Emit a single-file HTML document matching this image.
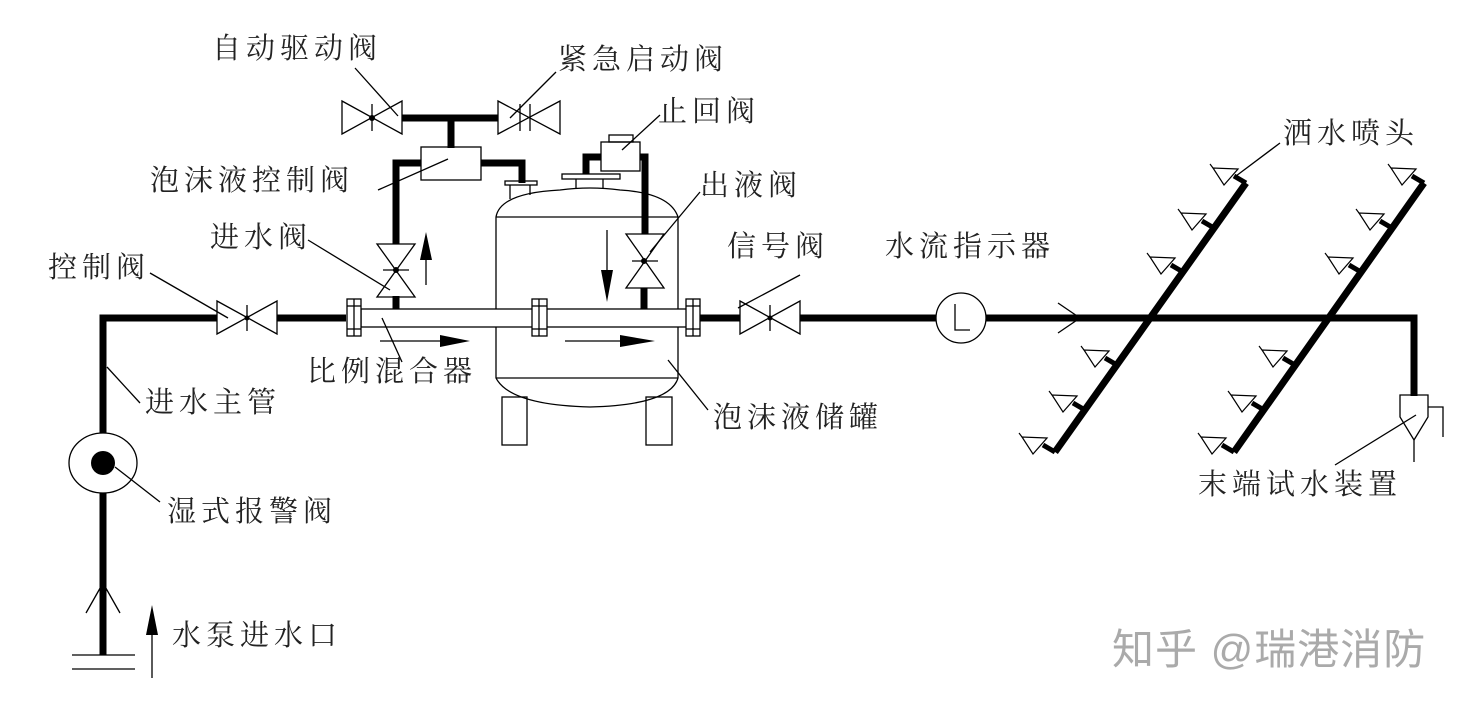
<!DOCTYPE html>
<html><head><meta charset="utf-8"><style>
body{margin:0;background:#fff}
svg{display:block}
text{font-family:"Liberation Serif","Noto Serif CJK SC",serif;font-size:29px;fill:#222;letter-spacing:5px}
</style></head><body>
<svg width="1472" height="707" viewBox="0 0 1472 707" xmlns="http://www.w3.org/2000/svg">
<g stroke="#000" fill="none">
<g stroke-width="7" stroke-linejoin="miter">
<polyline points="103,655 103,318 217,318"/>
<line x1="277" y1="318" x2="346" y2="318"/>
<line x1="700" y1="318" x2="740" y2="318"/>
<line x1="800" y1="318" x2="936" y2="318"/>
<polyline points="986,318 1414,318 1414,396"/>
<polyline points="402,118 498,118"/>
<line x1="451" y1="118" x2="451" y2="148"/>
<polyline points="421,163 396,163 396,244"/>
<line x1="396" y1="296" x2="396" y2="309"/>
<polyline points="481,163 522,163 522,183"/>
<polyline points="601,157 586,157 586,174"/>
<polyline points="640,157 645,157 645,234"/>
<line x1="644" y1="288" x2="644" y2="309"/>
<line x1="1246" y1="183" x2="1055" y2="452"/>
<line x1="1424" y1="183" x2="1234" y2="452"/>
</g>
<g stroke-width="1.3">
<polygon points="217,301 277,334 277,301 217,334"/>
<line x1="247" y1="305" x2="247" y2="331"/>
<polygon points="740,301 800,334 800,301 740,334"/>
<line x1="770" y1="305" x2="770" y2="331"/>
<polygon points="342,101 402,134 402,101 342,134"/>
<line x1="372" y1="104" x2="372" y2="131"/>
<polygon points="498,101 560,134 560,101 498,134"/>
<line x1="520" y1="104" x2="520" y2="131"/><line x1="530" y1="104" x2="530" y2="131"/>
<polygon points="377,244 415,244 377,297 415,297"/>
<line x1="383" y1="270" x2="409" y2="270"/>
<polygon points="626,234 664,234 626,288 664,288"/>
<line x1="632" y1="261" x2="658" y2="261"/>
<rect x="421" y="147" width="60" height="33"/>
<rect x="601" y="142" width="39" height="29"/>
<rect x="609" y="135" width="24" height="7"/>
<rect x="562" y="174" width="58" height="5"/>
<line x1="576" y1="179" x2="576" y2="189"/><line x1="603" y1="179" x2="603" y2="189"/>
<rect x="505" y="181" width="32" height="4"/>
<line x1="510" y1="185" x2="510" y2="199"/><line x1="530" y1="185" x2="530" y2="195"/>
<path d="M496,217 Q500,193 560,190 Q590,186 620,190 Q670,193 678,217 L678,378 Q670,405 590,407 Q510,405 496,378 Z"/>
<line x1="496" y1="217" x2="678" y2="217"/>
<line x1="496" y1="378" x2="678" y2="378"/>
<rect x="502" y="397" width="25" height="48"/>
<rect x="646" y="397" width="26" height="48"/>
<rect x="361" y="309" width="326" height="18" fill="#fff"/>
<rect x="347" y="299" width="14" height="37" fill="#fff"/>
<line x1="347" y1="306" x2="361" y2="306"/><line x1="347" y1="329" x2="361" y2="329"/><line x1="354" y1="299" x2="354" y2="336"/>
<rect x="532" y="299" width="15" height="37" fill="#fff"/>
<line x1="532" y1="306" x2="547" y2="306"/><line x1="532" y1="329" x2="547" y2="329"/><line x1="539" y1="299" x2="539" y2="336"/>
<rect x="686" y="299" width="14" height="37" fill="#fff"/>
<line x1="686" y1="306" x2="700" y2="306"/><line x1="686" y1="329" x2="700" y2="329"/><line x1="693" y1="299" x2="693" y2="336"/>
<line x1="380" y1="341" x2="440" y2="341"/>
<line x1="565" y1="341" x2="620" y2="341"/>
<line x1="426" y1="285" x2="426" y2="260"/>
<line x1="607" y1="230" x2="607" y2="270"/>
<line x1="152" y1="678" x2="152" y2="635"/>
<ellipse cx="103" cy="463" rx="34" ry="30" fill="#fff"/>
<circle cx="961" cy="318" r="25" fill="#fff"/>
<polyline points="955,304 955,330 970,330"/>
<polyline points="1058,303 1080,318 1058,333"/>
<polyline points="86,613 103,583 120,613"/>
<line x1="72" y1="655" x2="135" y2="655"/><line x1="72" y1="669" x2="135" y2="669"/>
<polygon points="1400,395 1428,395 1428,417 1414,440 1400,417"/>
<polyline points="1428,407 1443,407 1443,437"/>
<line x1="1414" y1="440" x2="1414" y2="462"/>
<line x1="150" y1="273" x2="228" y2="318"/>
<line x1="140" y1="403" x2="107" y2="367"/>
<line x1="160" y1="502" x2="115" y2="467"/>
<line x1="355" y1="68" x2="398" y2="116"/>
<line x1="556" y1="72" x2="510" y2="118"/>
<line x1="660" y1="115" x2="622" y2="150"/>
<line x1="378" y1="190" x2="448" y2="159"/>
<line x1="700" y1="192" x2="650" y2="252"/>
<line x1="308" y1="240" x2="390" y2="290"/>
<line x1="382" y1="318" x2="402" y2="362"/>
<line x1="708" y1="410" x2="668" y2="360"/>
<line x1="738" y1="308" x2="800" y2="275"/>
<line x1="1280" y1="143" x2="1236" y2="176"/>
<line x1="1335" y1="465" x2="1416" y2="415"/>
</g>
<g fill="#000" stroke="none">
<polygon points="420,260 432,260 426,232"/>
<polygon points="601,270 613,270 607,302"/>
<polygon points="440,335 440,347 470,341"/>
<polygon points="620,335 620,347 655,341"/>
<polygon points="146,635 158,635 152,605"/>
<circle cx="103" cy="463" r="12"/>
<circle cx="372" cy="118" r="3"/><circle cx="247" cy="318" r="2.5"/><circle cx="770" cy="318" r="2.5"/>
<circle cx="396" cy="270" r="3"/><circle cx="644" cy="261" r="3"/>
</g>
<defs>
<g id="spU"><line x1="0" y1="0" x2="-12" y2="-7" stroke-width="5"/><polygon points="-8,-14 -33,-15 -22,2" stroke-width="1.2" fill="#fff"/><line x1="-33" y1="-15" x2="-36" y2="-19" stroke-width="1.2"/></g>
</defs>
<use href="#spU" x="1246" y="183"/><use href="#spU" x="1214" y="228"/><use href="#spU" x="1183" y="272"/>
<use href="#spU" x="1117" y="365"/><use href="#spU" x="1085" y="410"/><use href="#spU" x="1055" y="452"/>
<use href="#spU" x="1424" y="183"/><use href="#spU" x="1392" y="228"/><use href="#spU" x="1361" y="272"/>
<use href="#spU" x="1295" y="365"/><use href="#spU" x="1264" y="410"/><use href="#spU" x="1234" y="452"/>
</g>
<text x="212" y="58">自动驱动阀</text>
<text x="558" y="69">紧急启动阀</text>
<text x="658" y="121">止回阀</text>
<text x="150" y="190">泡沫液控制阀</text>
<text x="700" y="195">出液阀</text>
<text x="210" y="247">进水阀</text>
<text x="48" y="277">控制阀</text>
<text x="727" y="256">信号阀</text>
<text x="885" y="256">水流指示器</text>
<text x="1283" y="143">洒水喷头</text>
<text x="307" y="381">比例混合器</text>
<text x="145" y="412">进水主管</text>
<text x="713" y="427">泡沫液储罐</text>
<text x="167" y="521">湿式报警阀</text>
<text x="1198" y="494">末端试水装置</text>
<text x="172" y="645">水泵进水口</text>
<text x="1112" y="664" style="font-family:'Liberation Sans','Noto Sans CJK SC',sans-serif;font-size:42px;fill:#aaa;letter-spacing:1px">知乎 @瑞港消防</text>
</svg>
</body></html>
